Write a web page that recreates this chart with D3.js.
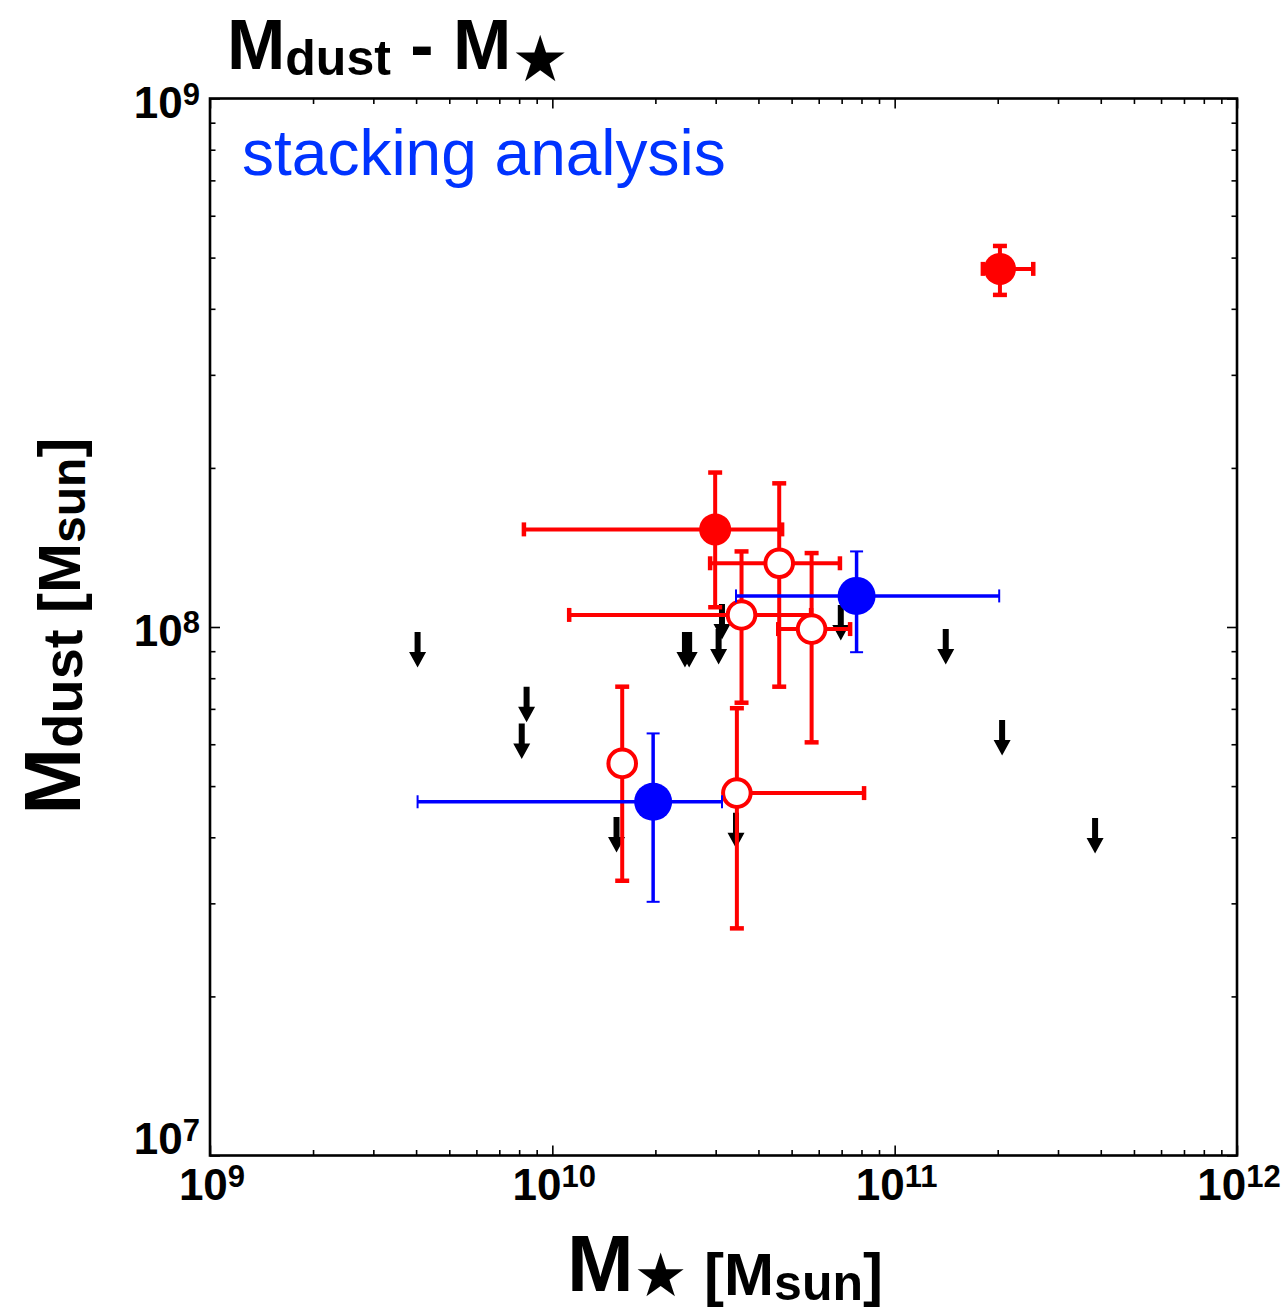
<!DOCTYPE html>
<html>
<head>
<meta charset="utf-8">
<script src="https://cdn.jsdelivr.net/npm/d3@7"></script>
<style>
  body { margin: 0; background: #fff; }
  text { font-family: "Liberation Sans", Arial, Helvetica, sans-serif; }
</style>
</head>
<body>
<svg id="chart" width="1283" height="1311"></svg>
<script>
// Red sources: stellar mass, dust mass and their error ranges (Msun)
const redX     = [2.03e11, 2.99e10, 4.60e10, 3.57e10, 5.72e10, 1.60e10, 3.46e10];
const redY     = [4.76e8,  1.53e8,  1.32e8,  1.054e8, 9.91e7,  5.52e7,  4.85e7];
const redXlo   = [1.81e11, 8.26e9,  2.89e10, 1.12e10, 4.57e10, null,    3.35e10];
const redXhi   = [2.54e11, 4.69e10, 6.92e10, 5.70e10, 7.41e10, null,    8.14e10];
const redYlo   = [4.25e8,  1.09e8,  7.71e7,  7.19e7,  6.05e7,  3.31e7,  2.69e7];
const redYhi   = [5.26e8,  1.96e8,  1.87e8,  1.39e8,  1.38e8,  7.71e7,  7.02e7];
const redFilled = [true, true, false, false, false, false, false];

// Stacked bins (blue)
const blueX   = [1.97e10, 7.74e10];
const blueY   = [4.67e7,  1.145e8];
const blueXlo = [4.04e9,  3.44e10];
const blueXhi = [3.13e10, 2.02e11];
const blueYlo = [3.02e7,  8.96e7];
const blueYhi = [6.29e7,  1.39e8];

// Upper limits on dust mass (black arrows)
const limX = [4.04e9, 8.41e9, 8.14e9, 2.44e10, 2.51e10, 3.13e10, 3.06e10,
              6.96e10, 1.41e11, 2.06e11, 3.85e11, 1.54e10, 3.44e10];
const limY = [9.78e7, 7.71e7, 6.57e7, 9.78e7, 9.78e7, 1.105e8, 9.91e7,
              1.10e8, 9.91e7, 6.67e7, 4.35e7, 4.37e7, 4.45e7];

// Axis decades (mantissa 10, exponent as superscript)
const xTickExp = [9, 10, 11, 12];
const yTickExp = [7, 8, 9];

const svg = d3.select("#chart");
const plotL = 210, plotR = 1237, plotT = 98.5, plotB = 1155.5;

const x = d3.scaleLog().domain([1e9, 1e12]).range([plotL, plotR]);
const y = d3.scaleLog().domain([1e7, 1e9]).range([plotB, plotT]);

const majorX = xTickExp.map(e => Math.pow(10, e));
const majorY = yTickExp.map(e => Math.pow(10, e));
const minors = (lo, hi) => {
  const out = [];
  for (let e = lo; e < hi; e++) for (let k = 2; k <= 9; k++) out.push(k * Math.pow(10, e));
  return out;
};
const minorX = minors(9, 12);
const minorY = minors(7, 9);

// Inward ticks on all four sides
function tickLayer(axisGen, transform, values, size) {
  const g = svg.append("g").attr("transform", transform)
    .call(axisGen.tickValues(values).tickSize(size).tickSizeOuter(0).tickFormat(""));
  g.select(".domain").remove();
  g.selectAll(".tick line").attr("stroke", "#000").attr("stroke-width", 1.6);
  g.selectAll(".tick text").remove();
}
tickLayer(d3.axisBottom(x), `translate(0,${plotB})`, majorX, -10);
tickLayer(d3.axisBottom(x), `translate(0,${plotB})`, minorX, -5.5);
tickLayer(d3.axisTop(x), `translate(0,${plotT})`, majorX, -10);
tickLayer(d3.axisTop(x), `translate(0,${plotT})`, minorX, -5.5);
tickLayer(d3.axisLeft(y), `translate(${plotL},0)`, majorY, -10);
tickLayer(d3.axisLeft(y), `translate(${plotL},0)`, minorY, -5.5);
tickLayer(d3.axisRight(y), `translate(${plotR},0)`, majorY, -10);
tickLayer(d3.axisRight(y), `translate(${plotR},0)`, minorY, -5.5);

// Frame
svg.append("rect")
  .attr("x", plotL).attr("y", plotT)
  .attr("width", plotR - plotL).attr("height", plotB - plotT)
  .attr("fill", "none").attr("stroke", "#000").attr("stroke-width", 2.6);

// Tick labels: 10 with superscript exponent
function powerLabel(sel, exp) {
  sel.append("tspan").text("10");
  sel.append("tspan").attr("font-size", 31).attr("dy", -13).text(exp);
}
xTickExp.forEach(e => {
  const t = svg.append("text")
    .attr("x", x(Math.pow(10, e)) + 2).attr("y", plotB + 44.5)
    .attr("text-anchor", "middle").attr("font-weight", "bold").attr("font-size", 44);
  powerLabel(t, e);
});
yTickExp.forEach(e => {
  const yy = y(Math.pow(10, e));
  const base = e === yTickExp[0] ? yy - 2 : yy + 19;
  const t = svg.append("text")
    .attr("x", 200).attr("y", base)
    .attr("text-anchor", "end").attr("font-weight", "bold").attr("font-size", 44);
  powerLabel(t, e);
});

// Title
const title = svg.append("text").attr("x", 227).attr("y", 69)
  .attr("font-weight", "bold").attr("font-size", 70);
title.append("tspan").text("M");
title.append("tspan").attr("font-size", 50).attr("dy", 6).text("dust");
title.append("tspan").attr("dy", -6).text(" - M");
title.append("tspan").attr("font-size", 64).attr("dy", 12)
  .attr("font-family", "DejaVu Sans").text("★");

// x-axis label
const xl = svg.append("text").attr("x", 725).attr("y", 1291)
  .attr("text-anchor", "middle").attr("font-weight", "bold").attr("font-size", 80);
xl.append("tspan").text("M");
xl.append("tspan").attr("font-size", 60).attr("dy", 5)
  .attr("font-family", "DejaVu Sans").text("★");
xl.append("tspan").attr("font-size", 60).attr("dy", -1).text(" [M");
xl.append("tspan").attr("font-size", 50).attr("dy", 5).text("sun");
xl.append("tspan").attr("font-size", 60).attr("dy", -5).text("]");

// y-axis label
const yl = svg.append("text")
  .attr("transform", "translate(80,626) rotate(-90)")
  .attr("text-anchor", "middle").attr("font-weight", "bold").attr("font-size", 80);
yl.append("tspan").text("M");
yl.append("tspan").attr("font-size", 56).attr("dy", 2).text("dust");
yl.append("tspan").attr("font-size", 60).attr("dy", -2).text(" [M");
yl.append("tspan").attr("font-size", 48).attr("dy", 5).text("sun");
yl.append("tspan").attr("font-size", 60).attr("dy", -5).text("]");

// Annotation
svg.append("text").attr("x", 242).attr("y", 175)
  .attr("font-size", 64).attr("fill", "#0033ff").text("stacking analysis");

// Upper-limit arrows
const arrowPath = (px, py) =>
  `M${px - 3},${py}H${px + 3}V${py + 20}H${px + 8.5}L${px},${py + 35.5}L${px - 8.5},${py + 20}H${px - 3}Z`;
svg.append("g").selectAll("path")
  .data(limX.map((v, i) => [v, limY[i]]))
  .join("path")
  .attr("d", d => arrowPath(x(d[0]), y(d[1])))
  .attr("fill", "#000");

// Error bars with end caps
function errorBars(g, xs, ys, xlo, xhi, ylo, yhi, color, lw, capW, capLen) {
  xs.forEach((xv, i) => {
    const cx = x(xv), cy = y(ys[i]);
    if (xlo[i] != null) {
      g.append("line").attr("x1", x(xlo[i])).attr("x2", x(xhi[i]))
        .attr("y1", cy).attr("y2", cy).attr("stroke", color).attr("stroke-width", lw);
      [xlo[i], xhi[i]].forEach(v => g.append("line")
        .attr("x1", x(v)).attr("x2", x(v)).attr("y1", cy - capLen / 2).attr("y2", cy + capLen / 2)
        .attr("stroke", color).attr("stroke-width", capW));
    }
    if (ylo[i] != null) {
      g.append("line").attr("x1", cx).attr("x2", cx)
        .attr("y1", y(ylo[i])).attr("y2", y(yhi[i])).attr("stroke", color).attr("stroke-width", lw);
      [ylo[i], yhi[i]].forEach(v => g.append("line")
        .attr("x1", cx - capLen / 2).attr("x2", cx + capLen / 2).attr("y1", y(v)).attr("y2", y(v))
        .attr("stroke", color).attr("stroke-width", capW));
    }
  });
}

const redG = svg.append("g");
errorBars(redG, redX, redY, redXlo, redXhi, redYlo, redYhi, "#ff0000", 4, 4.5, 14);
redG.selectAll("circle")
  .data(redX.map((v, i) => ({ x: v, y: redY[i], filled: redFilled[i] })))
  .join("circle")
  .attr("cx", d => x(d.x)).attr("cy", d => y(d.y))
  .attr("r", d => d.filled ? 16 : 13.8)
  .attr("fill", d => d.filled ? "#ff0000" : "#fff")
  .attr("stroke", d => d.filled ? "none" : "#ff0000")
  .attr("stroke-width", 4);

const blueG = svg.append("g");
errorBars(blueG, blueX, blueY, blueXlo, blueXhi, blueYlo, blueYhi, "#0000ff", 3.5, 2, 13);
blueG.selectAll("circle")
  .data(blueX.map((v, i) => [v, blueY[i]]))
  .join("circle")
  .attr("cx", d => x(d[0])).attr("cy", d => y(d[1]))
  .attr("r", 19).attr("fill", "#0000ff");
</script>
</body>
</html>
